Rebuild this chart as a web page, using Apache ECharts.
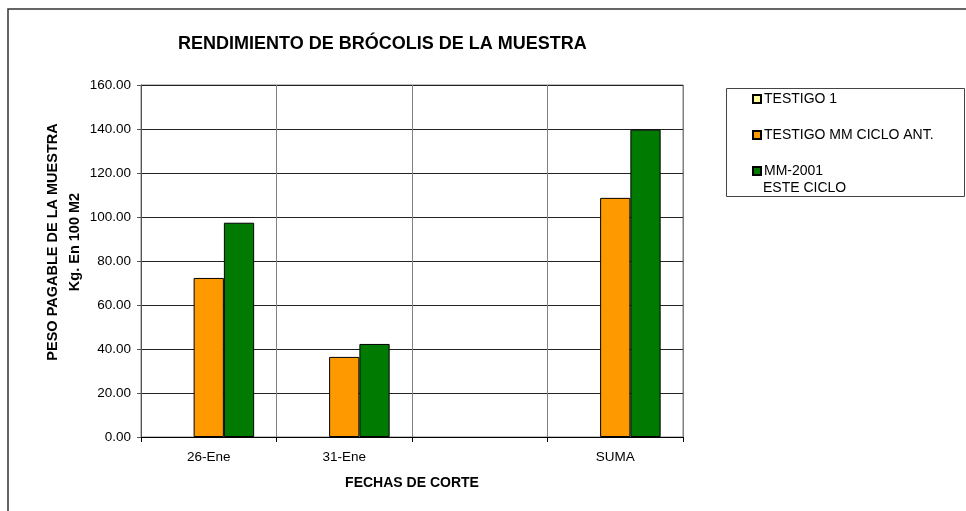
<!DOCTYPE html>
<html>
<head>
<meta charset="utf-8">
<script src="https://cdn.jsdelivr.net/npm/echarts@6/dist/echarts.min.js"></script>
<style>
  html, body { margin: 0; padding: 0; background: #fff; }
  #main { width: 966px; height: 511px; }
</style>
</head>
<body>
<div id="main"></div>
<script>
var categories = ['26-Ene', '31-Ene', '', 'SUMA'];
var testigo1 = [null, null, null, null];
var testigoMM = [72.3, 36.4, null, 108.7];
var mm2001 = [97.4, 42.3, null, 139.7];
var yTicks = [0, 20, 40, 60, 80, 100, 120, 140, 160];

var font = 'Liberation Sans, Arial, sans-serif';
var chart = echarts.init(document.getElementById('main'));

var option = {
  animation: false,
  textStyle: { fontFamily: font },
  title: {
    text: 'RENDIMIENTO DE BRÓCOLIS DE LA MUESTRA',
    left: 178,
    top: 35,
    padding: 0,
    textStyle: { fontFamily: font, fontSize: 18, fontWeight: 'bold', color: '#000' }
  },
  grid: {
    left: 141, right: 283, top: 85, bottom: 74,
    show: true, borderColor: '#808080', borderWidth: 1
  },
  // marco exterior, caja de la leyenda y segunda línea del nombre
  graphic: [
    { type: 'rect', shape: { x: 8, y: 9, width: 1000, height: 600 },
      style: { fill: 'none', stroke: '#333', lineWidth: 1.5 }, silent: true },
    { type: 'rect', shape: { x: 726.5, y: 88.5, width: 238, height: 108 },
      style: { fill: '#fff', stroke: '#444', lineWidth: 1 }, silent: true, z: 1 },
    { type: 'text', left: 763, top: 181, z: 5, silent: true,
      style: { text: 'ESTE CICLO', font: '14px ' + font, fill: '#000' } }
  ],
  legend: {
    data: ['TESTIGO 1', 'TESTIGO MM CICLO ANT.', 'MM-2001 ESTE CICLO'],
    orient: 'vertical', left: 752, top: 91, padding: 0,
    itemWidth: 8, itemHeight: 8, itemGap: 20,
    icon: 'rect', z: 5,
    formatter: function (name) { return name === 'MM-2001 ESTE CICLO' ? 'MM-2001' : name; },
    textStyle: { fontFamily: font, fontSize: 14, color: '#000', lineHeight: 16, padding: [0, 0, 0, -2] }
  },
  xAxis: {
    type: 'category',
    data: categories,
    name: 'FECHAS DE CORTE',
    nameLocation: 'middle',
    nameGap: 39,
    nameMoveOverlap: false,
    nameTextStyle: { fontFamily: font, fontSize: 14, fontWeight: 'bold', color: '#000' },
    axisLine: { lineStyle: { color: '#000', width: 1 } },
    axisTick: { show: true, length: 5, lineStyle: { color: '#000' } },
    axisLabel: { fontFamily: font, fontSize: 13.5, color: '#000', margin: 13 },
    splitLine: { show: true, lineStyle: { color: '#808080', width: 1 } }
  },
  yAxis: {
    type: 'value',
    min: 0, max: 160, interval: 20,
    name: 'PESO PAGABLE DE LA MUESTRA\nKg. En 100 M2',
    nameLocation: 'middle',
    nameRotate: 90,
    nameGap: 55,
    nameMoveOverlap: false,
    nameTextStyle: {
      fontFamily: font, fontSize: 14.5, fontWeight: 'bold', color: '#000',
      lineHeight: 22, padding: [0, 0, 0, 38]
    },
    axisLine: { show: true, lineStyle: { color: '#555', width: 1 } },
    axisTick: { show: true, length: 4, lineStyle: { color: '#555' } },
    axisLabel: {
      fontFamily: font, fontSize: 13.5, color: '#000', margin: 10,
      formatter: function (v) { return yTicks.indexOf(v) >= 0 ? v.toFixed(2) : ''; }
    },
    splitLine: { show: true, lineStyle: { color: '#222', width: 1 } }
  },
  series: [
    {
      name: 'TESTIGO 1', type: 'bar', data: testigo1,
      barGap: 0, barCategoryGap: '33%',
      itemStyle: { color: '#ffff99', borderColor: '#000', borderWidth: 1 }
    },
    {
      name: 'TESTIGO MM CICLO ANT.', type: 'bar', data: testigoMM,
      barGap: 0, barCategoryGap: '33%',
      itemStyle: { color: '#ff9900', borderColor: '#000', borderWidth: 1 }
    },
    {
      name: 'MM-2001 ESTE CICLO', type: 'bar', data: mm2001,
      barGap: 0, barCategoryGap: '33%',
      itemStyle: { color: '#007a00', borderColor: '#000', borderWidth: 1 }
    }
  ]
};

chart.setOption(option);
</script>
</body>
</html>
